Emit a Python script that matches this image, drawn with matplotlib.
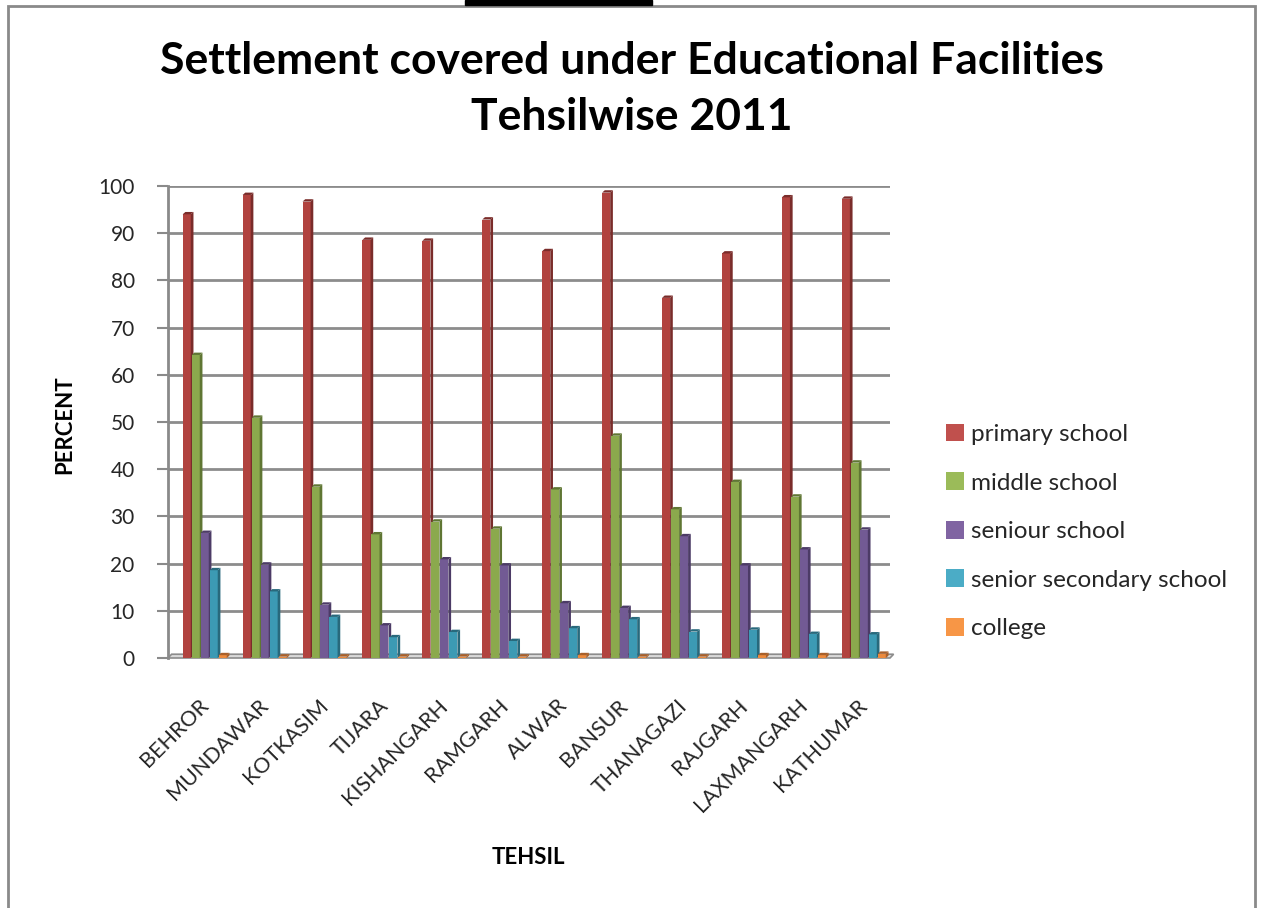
import matplotlib.pyplot as plt
from matplotlib.patches import Patch, Polygon, Rectangle
from matplotlib.transforms import ScaledTranslation
import numpy as np

tehsils = ['BEHROR', 'MUNDAWAR', 'KOTKASIM', 'TIJARA', 'KISHANGARH', 'RAMGARH',
           'ALWAR', 'BANSUR', 'THANAGAZI', 'RAJGARH', 'LAXMANGARH', 'KATHUMAR']

primary = [94.0, 98.1, 96.7, 88.6, 88.4, 92.9, 86.2, 98.6, 76.3, 85.7, 97.6, 97.3]
middle = [64.2, 50.9, 36.3, 26.2, 28.9, 27.4, 35.7, 47.1, 31.5, 37.3, 34.2, 41.4]
seniour = [26.5, 19.8, 11.3, 6.9, 20.9, 19.6, 11.6, 10.6, 25.8, 19.6, 23.0, 27.2]
senior_sec = [18.6, 14.1, 8.7, 4.4, 5.5, 3.6, 6.3, 8.2, 5.6, 6.0, 5.1, 5.0]
college = [0.6, 0.3, 0.3, 0.3, 0.3, 0.3, 0.6, 0.3, 0.3, 0.6, 0.6, 0.9]

series = [primary, middle, seniour, senior_sec, college]
names = ['primary school', 'middle school', 'seniour school',
         'senior secondary school', 'college']
legend_cols = ['#C0504D', '#9BBB59', '#8064A2', '#4BACC6', '#F79646']
front_cols = ['#B1433F', '#8BA94D', '#725A94', '#3C9AB4', '#EC8A3D']
side_cols = ['#7A2C2A', '#5F7633', '#4C3B66', '#28697C', '#A9602A']
text_col = '#262626'

plt.rcParams['font.family'] = ['Lato', 'DejaVu Sans']

fig = plt.figure(figsize=(12.61, 9.08), dpi=100)
W, H = 1261, 908

# outer chart frame and the dark strip along the top edge
fig.patches.append(Rectangle((8 / W, -0.01), (1255 - 8) / W, (908 - 6) / H + 0.01,
                             transform=fig.transFigure, fill=False,
                             edgecolor='#8a8a8a', linewidth=2))
fig.patches.append(Rectangle((465 / W, (908 - 5) / H), (652 - 465) / W, 5 / H,
                             transform=fig.transFigure, color='black'))

ax = fig.add_axes([168 / W, (908 - 658) / H, 722 / W, 472 / H])
ax.set_xlim(-0.62, 11.43)
ax.set_ylim(0, 100)

for s in ['top', 'right', 'bottom']:
    ax.spines[s].set_visible(False)
ax.spines['left'].set_color('#8a8a8a')
ax.spines['left'].set_linewidth(2)

ax.set_yticks(np.arange(0, 101, 10))
ax.yaxis.grid(True, color='#8c8c8c', linewidth=2)
ax.set_axisbelow(True)
ax.tick_params(axis='y', length=8, width=1.5, color='#8a8a8a', labelsize=15,
               pad=16, labelcolor=text_col)
ax.tick_params(axis='x', length=0, labelsize=15.5, pad=27, labelcolor=text_col)

# floor slab
x0, x1 = ax.get_xlim()
ax.add_patch(Polygon([(x0, 0), (x1, 0), (x1 + 0.06, 0.8), (x0 + 0.06, 0.8)],
                     closed=True, facecolor='#d9d9d9', edgecolor='#8c8c8c',
                     linewidth=1.2, clip_on=False, zorder=2))

x = np.arange(len(tehsils))
slot = 0.15
front_w = 0.135
dx, dy = 0.045, 0.5
for j, vals in enumerate(series):
    left = x - 2.5 * slot + j * slot
    ax.bar(left, vals, width=front_w, align='edge', color=front_cols[j],
           edgecolor='none', zorder=3)
    for xl, v in zip(left, vals):
        xr = xl + front_w
        ax.add_patch(Polygon([(xr, 0), (xr + dx, dy), (xr + dx, v + dy), (xr, v)],
                             closed=True, facecolor=side_cols[j], edgecolor='none',
                             zorder=3))
        ax.add_patch(Polygon([(xl, v), (xr, v), (xr + dx, v + dy), (xl + dx, v + dy)],
                             closed=True, facecolor=side_cols[j], edgecolor='none',
                             zorder=3))

ax.set_xticks(x)
ax.set_xticklabels(tehsils, rotation=45, ha='right', rotation_mode='anchor')
shift = ScaledTranslation(-0.07, 0.0, fig.dpi_scale_trans)
for lbl in ax.get_xticklabels():
    lbl.set_transform(lbl.get_transform() + shift)

fig.text(632 / W, 1 - 89 / H, 'Settlement covered under Educational Facilities\nTehsilwise 2011',
         ha='center', va='center', fontsize=32, fontweight='bold', linespacing=1.5)
fig.text(65 / W, 1 - 425 / H, 'PERCENT', rotation=90, ha='center', va='center',
         fontsize=16, fontweight='bold')
fig.text(528 / W, 1 - 858 / H, 'TEHSIL', ha='center', va='center',
         fontsize=16, fontweight='bold')

handles = [Patch(facecolor=c, edgecolor='none', label=n) for c, n in zip(legend_cols, names)]
leg = fig.legend(handles=handles, loc='center left', bbox_to_anchor=(924 / W, 1 - 531.5 / H),
                 frameon=False, fontsize=17.5, handlelength=0.75, handleheight=0.75,
                 handletextpad=0.3, labelspacing=1.12)
for t in leg.get_texts():
    t.set_color(text_col)

fig.savefig('out.png', dpi=100)
